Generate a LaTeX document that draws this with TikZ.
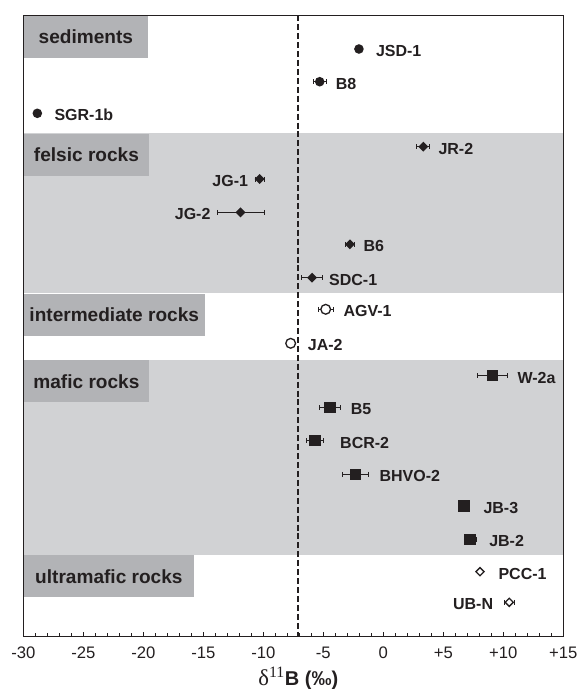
\documentclass[tikz,border=0pt]{standalone}
\usepackage{fontspec}
\setmainfont{Liberation Sans}
\newfontfamily\greekfont{Liberation Serif}
\usetikzlibrary{shapes.geometric}
\definecolor{ink}{RGB}{35,31,32}
\definecolor{bandgrey}{RGB}{209,210,212}
\definecolor{labgrey}{RGB}{178,179,182}
\tikzset{
	frame/.style={line width=0.9pt, draw=ink},
	band/.style={fill=bandgrey},
	grouplab/.style={fill=labgrey, text=ink, font=\fontsize{14.3}{17}\selectfont\bfseries, inner sep=0pt, anchor=north west, minimum height=31.5pt},
	lab/.style={text=ink, font=\fontsize{12}{14}\selectfont\bfseries, inner sep=0pt},
	sedmark/.style={circle, fill=ink, inner sep=0pt, minimum size=7.2pt},
	felmark/.style={diamond, fill=ink, inner sep=0pt, minimum size=7.6pt},
	intmark/.style={circle, draw=ink, fill=white, line width=1pt, inner sep=0pt, minimum size=7.3pt},
	mafmark/.style={rectangle, fill=ink, inner sep=0pt, minimum size=8.4pt},
	umfmark/.style={diamond, draw=ink, fill=white, line width=1pt, inner sep=0pt, minimum size=6.5pt},
	errline/.style={line width=0.6pt, draw=ink},
	ticklab/.style={text=ink, font=\fontsize{12.5}{15}\selectfont, inner sep=0pt}
}
\def\errbar(#1,#2,#3){\draw[errline] (#1-#2,#3) -- (#1+#2,#3) (#1-#2,#3-2.5) -- (#1-#2,#3+2.5) (#1+#2,#3-2.5) -- (#1+#2,#3+2.5);}

\begin{document}
\begin{tikzpicture}[x=9pt, y=-0.75pt]
			%%%%% START %%%%%
			\useasboundingbox (-31.942,0) rectangle (16.308,689);
			
			\fill[band] (-30,133.3) rectangle (15,293.3);
			\fill[band] (-30,360) rectangle (15,555);
			
			\node[grouplab, minimum width=93.5pt] (sedbox) at (-30,15.3) {sediments};
			\node[grouplab, minimum width=94.3pt] (felbox) at (-30,133.3) {felsic rocks};
			\node[grouplab, minimum width=136pt] (intbox) at (-30,293.3) {intermediate rocks};
			\node[grouplab, minimum width=94.3pt] (mafbox) at (-30,360) {mafic rocks};
			\node[grouplab, minimum width=128pt] (umfbox) at (-30,555) {ultramafic rocks};
			
			\draw[line width=1.5pt, draw=ink, dash pattern=on 4.5pt off 2.2pt] (-7.15,15.3) -- (-7.15,636.7);
			
			% sediments
			\node[sedmark] (jsd) at (-2.03,49) {};
			\node[lab, anchor=west] (jsdlab) at (-0.63,51) {JSD-1};
			\errbar(-5.3,0.55,81.7)
			\node[sedmark] (b8) at (-5.3,81.7) {};
			\node[lab, anchor=west] (b8lab) at (-3.97,83.5) {B8};
			\node[sedmark] (sgr) at (-28.83,113.3) {};
			\node[lab, anchor=west] (sgrlab) at (-27.42,115) {SGR-1b};
			
			% felsic rocks
			\errbar(3.33,0.55,146.7)
			\node[felmark] (jr2) at (3.33,146.7) {};
			\node[lab, anchor=west] (jr2lab) at (4.58,148.5) {JR-2};
			\errbar(-10.3,0.35,179)
			\node[felmark] (jg1) at (-10.3,179) {};
			\node[lab, anchor=east] (jg1lab) at (-11.25,181) {JG-1};
			\errbar(-11.9,1.96,212.3)
			\node[felmark] (jg2) at (-11.9,212.3) {};
			\node[lab, anchor=east] (jg2lab) at (-14.38,214) {JG-2};
			\errbar(-2.78,0.35,244.3)
			\node[felmark] (b6) at (-2.78,244.3) {};
			\node[lab, anchor=west] (b6lab) at (-1.67,246) {B6};
			\errbar(-5.94,0.85,277.7)
			\node[felmark] (sdc) at (-5.94,277.7) {};
			\node[lab, anchor=west] (sdclab) at (-4.53,279.5) {SDC-1};
			
			% intermediate rocks
			\errbar(-4.8,0.6,309.3)
			\node[intmark] (agv) at (-4.8,309.3) {};
			\node[lab, anchor=west] (agvlab) at (-3.33,311) {AGV-1};
			\node[intmark] (ja2) at (-7.72,343.3) {};
			\node[lab, anchor=west] (ja2lab) at (-6.3,345) {JA-2};
			
			% mafic rocks
			\errbar(9.08,1.25,375.7)
			\node[mafmark] (w2a) at (9.08,375.7) {};
			\node[lab, anchor=west] (w2alab) at (11.17,377.5) {W-2a};
			\errbar(-4.44,0.9,407.7)
			\node[mafmark] (b5) at (-4.44,407.7) {};
			\node[lab, anchor=west] (b5lab) at (-2.72,409.5) {B5};
			\errbar(-5.69,0.7,440.7)
			\node[mafmark] (bcr) at (-5.69,440.7) {};
			\node[lab, anchor=west] (bcrlab) at (-3.61,442.5) {BCR-2};
			\errbar(-2.33,1.07,474.3)
			\node[mafmark] (bhvo) at (-2.33,474.3) {};
			\node[lab, anchor=west] (bhvolab) at (-0.33,476) {BHVO-2};
			\node[mafmark] (jb3) at (6.72,506) {};
			\node[lab, anchor=west] (jb3lab) at (8.33,508) {JB-3};
			\errbar(7.22,0.5,539.3)
			\node[mafmark] (jb2) at (7.22,539.3) {};
			\node[lab, anchor=west] (jb2lab) at (8.81,541) {JB-2};
			
			% ultramafic rocks
			\node[umfmark] (pcc) at (8.06,571.7) {};
			\node[lab, anchor=west] (pcclab) at (9.58,573.5) {PCC-1};
			\errbar(10.5,0.4,602.3)
			\node[umfmark] (ubn) at (10.5,602.3) {};
			\node[lab, anchor=east] (ubnlab) at (9.17,604) {UB-N};
			
			% axis
			\draw[frame] (-30,15.3) rectangle (15,636.7);
			\foreach \t in {-29,...,14}
				\draw[line width=0.7pt, draw=ink] (\t,636.7) -- (\t,633.4);
			\foreach \t in {-25,-20,...,10}
				\draw[line width=0.7pt, draw=ink] (\t,636.7) -- (\t,631.5);
			\foreach \t/\s in {-30/-30,-25/-25,-20/-20,-15/-15,-10/-10,-5/-5,0/0,5/+5,10/+10,15/+15}
				\node[ticklab] (tick\t) at (\t,652.5) {\s};
			\node[ticklab, font=\fontsize{15}{17}\selectfont, anchor=base] (xtitle) at (-7.08,685.5) {{\greekfont\fontsize{17}{18}\selectfont δ\textsuperscript{11}}\textbf{B (‰)}};
			
			%%%%% END %%%%%
\end{tikzpicture}
\end{document}
